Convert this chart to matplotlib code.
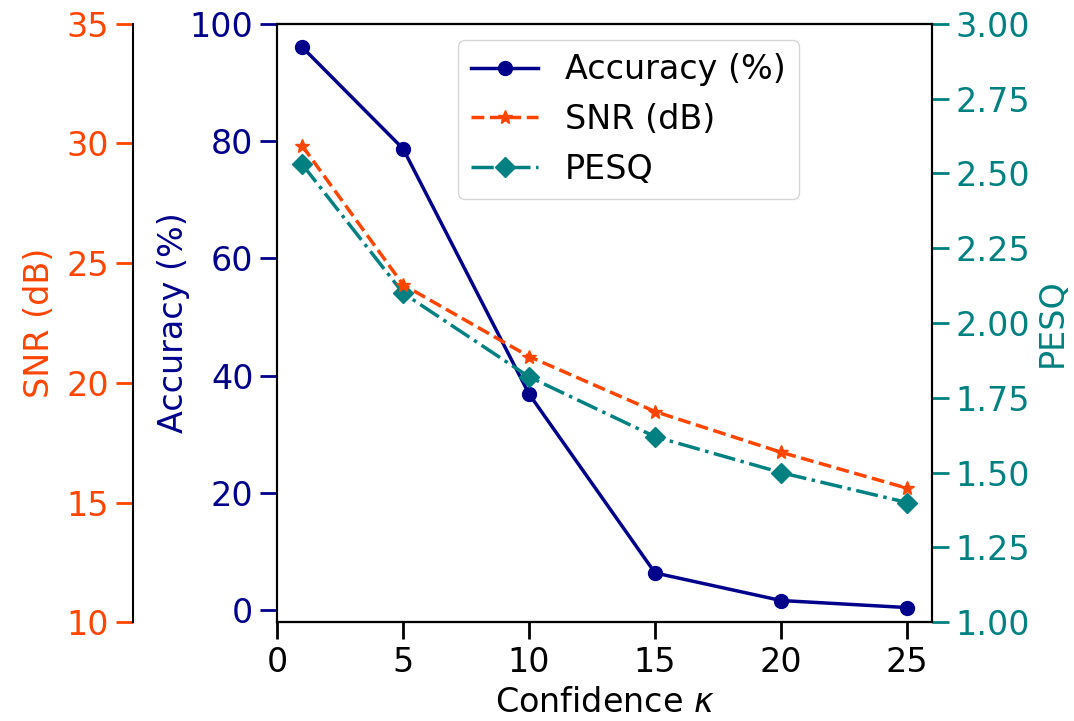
import numpy as np
import matplotlib
matplotlib.use('Agg')
import matplotlib.pyplot as plt

# confidence values and measured metrics
kappa = [1, 5, 10, 15, 20, 25]
accuracy = [96.0, 78.7, 36.9, 6.4, 1.7, 0.5]
snr = [29.9, 24.1, 21.1, 18.8, 17.1, 15.6]
pesq = [2.53, 2.10, 1.82, 1.62, 1.50, 1.40]

c_acc = '#00008B'
c_snr = '#FF4500'
c_pesq = '#008080'

plt.rcParams['font.size'] = 24

fig = plt.figure(figsize=(10.74, 7.21), dpi=100)
ax = fig.add_axes([0.258, 0.137, 0.61, 0.830])
ax2 = ax.twinx()
ax3 = ax.twinx()
ax3.spines['right'].set_visible(False)
ax3.spines['left'].set_position(('axes', -0.22))
ax3.spines['left'].set_visible(True)
ax3.yaxis.set_label_position('left')
ax3.yaxis.set_ticks_position('left')

l1, = ax.plot(kappa, accuracy, '-o', color=c_acc, lw=2.5, ms=10, label='Accuracy (%)')
l2, = ax3.plot(kappa, snr, '--*', color=c_snr, lw=2.5, ms=10, label='SNR (dB)')
l3, = ax2.plot(kappa, pesq, '-.D', color=c_pesq, lw=2.5, ms=10, label='PESQ')

ax.set_xlim(0, 26)
ax.set_ylim(-2, 100)
ax3.set_ylim(10, 35)
ax2.set_ylim(1, 3)
ax.set_xticks([0, 5, 10, 15, 20, 25])
ax.set_yticks([0, 20, 40, 60, 80, 100])
ax3.set_yticks([10, 15, 20, 25, 30, 35])
ax2.set_yticks([1.0, 1.25, 1.5, 1.75, 2.0, 2.25, 2.5, 2.75, 3.0])
ax2.set_yticklabels(['%.2f' % v for v in ax2.get_yticks()])

ax.set_xlabel(r'Confidence $\kappa$', labelpad=5)
ax.set_ylabel('Accuracy (%)', color=c_acc, labelpad=0)
ax3.set_ylabel('SNR (dB)', color=c_snr, labelpad=8)
ax2.set_ylabel('PESQ', color=c_pesq, labelpad=4)

for a in (ax, ax2, ax3):
    for s in a.spines.values():
        s.set_linewidth(1.5)
ax.tick_params(axis='x', length=12, width=2, pad=5, colors='black')
ax.tick_params(axis='y', length=12, width=2, pad=5, colors=c_acc)
ax3.tick_params(axis='y', length=12, width=2, pad=5, colors=c_snr)
ax2.tick_params(axis='y', length=12, width=2, pad=5, colors=c_pesq)

ax.legend([l1, l2, l3], [l1.get_label(), l2.get_label(), l3.get_label()],
          loc='upper left', bbox_to_anchor=(0.276, 0.973), borderaxespad=0,
          fontsize=24, handlelength=2.0)

fig.savefig('out.png', dpi=100)
